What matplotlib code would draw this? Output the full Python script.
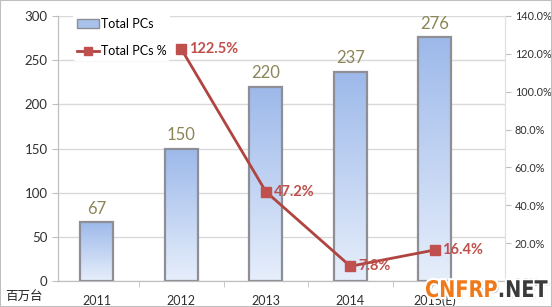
import numpy as np
import matplotlib
matplotlib.use("Agg")
from matplotlib import pyplot as plt
from matplotlib.patches import Rectangle, PathPatch
from matplotlib.lines import Line2D
from matplotlib.textpath import TextPath
from matplotlib.font_manager import FontProperties
from matplotlib.transforms import Affine2D, IdentityTransform
import matplotlib.patheffects as pe

years = ["2011", "2012", "2013", "2014", "2015(E)"]
total_pcs = [67, 150, 220, 237, 276]
growth_pct = [None, 122.5, 47.2, 7.8, 16.4]

plt.rcParams['font.family'] = ['Lato', 'Noto Sans CJK SC', 'DejaVu Sans']

fig = plt.figure(figsize=(5.52, 3.07), dpi=100)
ax = fig.add_axes([58/552, 26/307, 447/552, 265/307])
ax2 = ax.twinx()

x = np.arange(len(years))
w = 0.39

# gridlines
ax.set_yticks(np.arange(0, 301, 50))
ax.yaxis.grid(True, color='#D9D9D9', lw=1)
ax.set_axisbelow(True)

# gradient bars (darker top, pale bottom)
grad = np.linspace(0, 1, 100).reshape(-1, 1)
cmap = matplotlib.colors.LinearSegmentedColormap.from_list('b', ['#E6EEFB', '#9DB9EA'])
for xi, v in zip(x, total_pcs):
    ax.imshow(grad, cmap=cmap, aspect='auto', origin='lower',
              extent=(xi - w/2, xi + w/2, 0, v), zorder=2)
    ax.add_patch(Rectangle((xi - w/2, 0), w, v, facecolor='none',
                           edgecolor='#8E8E96', lw=1.6, zorder=3))
    ax.text(xi, v + 6, str(v), ha='center', va='bottom', fontsize=12, color='#8C8558', zorder=5)

ax.set_xlim(-0.46, 4.83)
ax.set_ylim(0, 300)
ax2.set_ylim(0, 140)

# growth line
lx = [xi for xi, p in zip(x, growth_pct) if p is not None]
ly = [p for p in growth_pct if p is not None]
ax2.plot(lx, ly, color='#B04440', lw=2, zorder=4)
ax2.plot(lx, ly, ls='none', marker='s', ms=7, color='#C0504D', zorder=5)
for xi, p in zip(lx, ly):
    ax2.text(xi + 0.09, p, f"{p}%", ha='left', va='center', fontsize=10.5,
             color='#C0504D', fontweight='bold', zorder=6)

# axes styling
ax.set_xticks(x)
ax.set_xticklabels(years, fontsize=9, color='#303030')
ax.set_xticks(np.arange(0.5, 4.6, 1), minor=True)
ax.tick_params(axis='x', which='major', length=0, pad=10)
ax.tick_params(axis='x', which='minor', length=4, color='#BFBFBF')
ax.tick_params(axis='y', labelsize=9.5, colors='#303030', length=4, color='#BFBFBF')
ax2.set_yticks(np.arange(0, 141, 20))
ax2.set_yticklabels([f"{v:.1f}%" for v in np.arange(0, 141, 20)])
ax2.tick_params(axis='y', labelsize=7.8, colors='#303030', length=4, color='#BFBFBF', pad=3)
for a in (ax, ax2):
    a.spines['top'].set_visible(False)
    a.spines['left'].set_color('#BFBFBF')
    a.spines['bottom'].set_color('#BFBFBF')
    a.spines['right'].set_color('#E0E0E0')

fig.text(5/552, 1 - 296/307, "百万台", fontsize=9, color='#202020', va='center',
         family=['Noto Sans CJK SC', 'DejaVu Sans'])

# legend
handles = [Rectangle((0, 0), 1, 1, facecolor='#A9C2EC', edgecolor='#8E8E96'),
           Line2D([], [], color='#B04440', lw=2, marker='s', ms=6, mfc='#C0504D', mec='#C0504D')]
leg = ax.legend(handles, ["Total PCs", "Total PCs %"], loc='upper left',
                bbox_to_anchor=(0.02, 1.03), frameon=True, fontsize=9,
                labelspacing=1.2, handlelength=1.8, handletextpad=0.1, borderpad=0.3)
leg.get_frame().set_edgecolor('none')
leg.get_frame().set_facecolor('white')
leg.get_frame().set_alpha(1)
leg.set_zorder(10)

# watermark, condensed bold text as paths (pixel coords)
fp = FontProperties(family='DejaVu Sans', weight='bold')
wm_fx = [pe.SimplePatchShadow(offset=(1.5, -1.5), shadow_rgbFace='#808080', alpha=0.6),
         pe.withStroke(linewidth=3, foreground='white')]
p1 = TextPath((0, 0), "CNFRP", size=23, prop=fp)
p2 = TextPath((0, 0), ".NET", size=23, prop=fp)
sx = 0.84
w1 = p1.get_extents().x1 * sx
for path, x0, col in [(p1, 425, '#F07A1A'), (p2, 425 + w1 + 1, '#3A3A3A')]:
    tr = Affine2D().scale(sx, 1.0).translate(x0, 10)
    patch = PathPatch(tr.transform_path(path), facecolor=col, edgecolor='none',
                      transform=IdentityTransform(), zorder=20)
    patch.set_path_effects(wm_fx)
    fig.patches.append(patch)

fig.patches.append(Rectangle((0, 0), 1, 1, transform=fig.transFigure, fill=False,
                             edgecolor='#BFBFBF', lw=1.5))

fig.savefig("out.png", dpi=100)
